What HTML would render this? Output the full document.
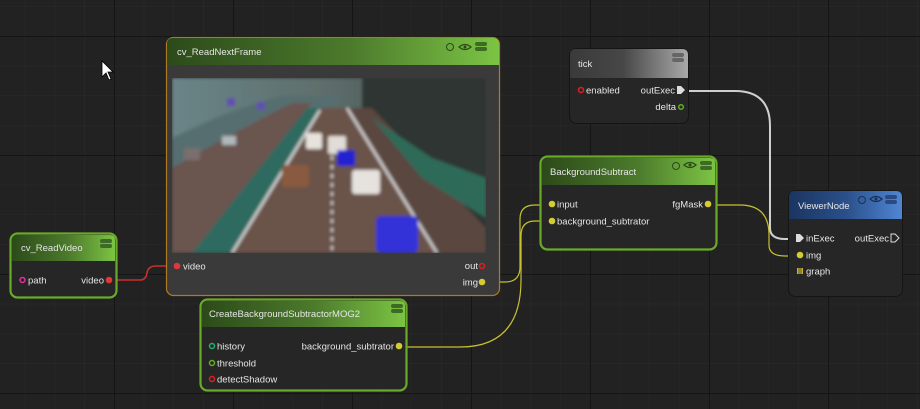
<!DOCTYPE html>
<html><head><meta charset="utf-8"><style>
html,body{margin:0;padding:0;width:920px;height:409px;overflow:hidden;background:#222}
svg{display:block}
text{font-family:"Liberation Sans","DejaVu Sans",sans-serif;font-size:9.5px;fill:#e6e6e6}
.r{text-anchor:end}
</style></head><body>
<svg width="920" height="409" viewBox="0 0 920 409" xmlns="http://www.w3.org/2000/svg">
<defs>
<pattern id="minor" x="24.75" y="6.25" width="29.75" height="29.75" patternUnits="userSpaceOnUse">
<path d="M0 0H29.75M0 0V29.75" stroke="#2b2b2b" stroke-width="1" fill="none"/></pattern>
<pattern id="major" x="114" y="36" width="119" height="119" patternUnits="userSpaceOnUse">
<path d="M0 0H119M0 0V119" stroke="#151515" stroke-width="2" fill="none"/></pattern>
<linearGradient id="gG" x1="0" x2="1"><stop offset="0" stop-color="#2c4a1a"/><stop offset="0.55" stop-color="#4c7a2c"/><stop offset="1" stop-color="#7cc444"/></linearGradient>
<linearGradient id="gT" x1="0" x2="1"><stop offset="0" stop-color="#3a3a3a"/><stop offset="0.45" stop-color="#474747"/><stop offset="1" stop-color="#a9a9a9"/></linearGradient>
<linearGradient id="gB" x1="0" x2="1"><stop offset="0" stop-color="#1a3560"/><stop offset="0.5" stop-color="#2a4f8a"/><stop offset="1" stop-color="#4f86d4"/></linearGradient>
<linearGradient id="sky" x1="0" x2="1"><stop offset="0" stop-color="#6a8588"/><stop offset="0.5" stop-color="#5d6d6a"/><stop offset="1" stop-color="#3a4542"/></linearGradient>
<filter id="blur"><feGaussianBlur stdDeviation="1.5"/></filter>
</defs>
<rect width="920" height="409" fill="#222"/>
<rect width="920" height="409" fill="url(#minor)"/>
<rect width="920" height="409" fill="url(#major)"/>

<!-- wires -->
<path d="M108 280 H140 Q146 280 147 273 Q148 266 156 266 H176" stroke="#c83030" stroke-width="1.6" fill="none"/>
<path d="M483 282 H505 Q520 282 520 267 V219 Q520 205 535 205 H549" stroke="#c8c030" stroke-width="1.2" fill="none"/>
<path d="M400 347 H460 Q521 347 521 280 V236 Q521 221 535 221 H549" stroke="#c8c030" stroke-width="1.2" fill="none"/>
<path d="M708 205 H740 Q769 205 769 235 V245 Q769 256 785 256 H800" stroke="#c8c030" stroke-width="1.2" fill="none"/>
<path d="M684 91 H735 Q770 91 770 126 V228 Q770 239 785 239 H797" stroke="#cfcfcf" stroke-width="2" fill="none"/>

<!-- cv_ReadNextFrame -->
<g>
<rect x="166.5" y="37.5" width="333" height="258" rx="7" fill="#3a3a3a" stroke="#b07a22" stroke-width="1.2"/>
<path d="M167 44 Q167 38 173 38 H493 Q499 38 499 44 V65 H167Z" fill="url(#gG)"/>
<text x="177" y="55">cv_ReadNextFrame</text>
<circle cx="450" cy="47" r="3.5" fill="none" stroke="#2a4a1a" stroke-width="1"/>
<path d="M459 47 Q465 42 471 47 Q465 52 459 47Z" fill="none" stroke="#2a4a1a" stroke-width="1.2"/><circle cx="465" cy="47" r="1.5" fill="#2a4a1a"/>
<rect x="475" y="42" width="12" height="4" rx="2" fill="#3d6a25"/><rect x="475" y="47" width="12" height="4" rx="2" fill="#3d6a25"/>
<svg x="172" y="78" width="314" height="175" viewBox="0 0 314 175">
<g filter="url(#blur)">
<rect width="314" height="175" fill="url(#sky)"/>
<rect x="190" y="0" width="124" height="175" fill="#2e3432"/>
<path d="M0 60 Q60 30 110 18 L170 18 L40 175 H0Z" fill="#576e70"/>
<path d="M0 90 Q70 50 120 25 L140 25 L20 175 H0Z" fill="#6a5450"/>
<path d="M20 175 L135 30 L150 30 L60 175Z" fill="#2f6a5e"/>
<path d="M60 175 L150 30 L175 30 L265 175Z" fill="#6a5248"/>
<path d="M175 30 L200 30 L314 150 V175 H265Z" fill="#5a4640"/>
<path d="M200 40 L260 80 L314 100 V140 L250 100Z" fill="#2e6a58"/>
<path d="M60 175 L148 32" stroke="#d8d8d8" stroke-width="2.5"/>
<path d="M175 30 L265 175" stroke="#d8d8d8" stroke-width="2.5"/>
<path d="M160 60 V175" stroke="#ddd" stroke-width="2" stroke-dasharray="4 5"/>
<rect x="134" y="55" width="16" height="16" rx="2" fill="#e6e2dc"/>
<rect x="156" y="58" width="18" height="18" rx="2" fill="#e0dcd6"/>
<rect x="165" y="72" width="18" height="16" rx="2" fill="#2020d0"/>
<rect x="110" y="87" width="27" height="22" rx="3" fill="#8a5a40"/>
<rect x="180" y="92" width="28" height="24" rx="3" fill="#e6e2de"/>
<rect x="204" y="138" width="42" height="37" rx="5" fill="#3030d8"/>
<rect x="12" y="70" width="16" height="12" fill="#7a6e6e"/>
<rect x="50" y="58" width="14" height="9" fill="#b0b8bc"/>
<rect x="55" y="20" width="8" height="8" fill="#6050b0"/>
<rect x="85" y="24" width="8" height="8" fill="#6050b0"/>
</g>
</svg>
<circle cx="177" cy="266" r="3.3" fill="#e03838"/>
<text x="183" y="269.5">video</text>
<text class="r" x="478" y="269">out</text>
<circle cx="482" cy="266" r="2.5" fill="none" stroke="#e02020" stroke-width="1.5"/>
<text class="r" x="478" y="285.5">img</text>
<circle cx="482" cy="282" r="3.3" fill="#d4cc30"/>
</g>

<!-- cv_ReadVideo -->
<g>
<rect x="10.5" y="233.5" width="106" height="64" rx="7" fill="#262626" stroke="#6aaa28" stroke-width="2.2"/>
<path d="M12 240 Q12 235 17 235 H110 Q115 235 115 240 V261 H12Z" fill="url(#gG)"/>
<text x="21" y="251">cv_ReadVideo</text>
<rect x="100" y="239" width="12" height="4" rx="2" fill="#3d6a25"/><rect x="100" y="244" width="12" height="4" rx="2" fill="#3d6a25"/>
<circle cx="22.5" cy="280" r="2.5" fill="none" stroke="#e030a0" stroke-width="1.5"/>
<text x="28" y="283.5">path</text>
<text class="r" x="104" y="283.5">video</text>
<circle cx="109" cy="280" r="3.3" fill="#e03838"/>
</g>

<!-- CreateBackgroundSubtractorMOG2 -->
<g>
<rect x="200.5" y="299.5" width="206" height="91" rx="7" fill="#262626" stroke="#6aaa28" stroke-width="2.2"/>
<path d="M202 306 Q202 301 207 301 H400 Q405 301 405 306 V327 H202Z" fill="url(#gG)"/>
<text x="209" y="317">CreateBackgroundSubtractorMOG2</text>
<rect x="391" y="304" width="12" height="4" rx="2" fill="#3d6a25"/><rect x="391" y="309" width="12" height="4" rx="2" fill="#3d6a25"/>
<circle cx="212" cy="346" r="2.5" fill="none" stroke="#20b070" stroke-width="1.5"/><text x="217" y="349.5">history</text>
<circle cx="212" cy="363" r="2.5" fill="none" stroke="#60b020" stroke-width="1.5"/><text x="217" y="366.5">threshold</text>
<circle cx="212" cy="379" r="2.5" fill="none" stroke="#e02020" stroke-width="1.5"/><text x="217" y="382.5">detectShadow</text>
<text class="r" x="394" y="349.5">background_subtrator</text>
<circle cx="399" cy="346" r="3.3" fill="#d4cc30"/>
</g>

<!-- tick -->
<g>
<rect x="569.5" y="48.5" width="119" height="75" rx="7" fill="#262626" stroke="#151515" stroke-width="1"/>
<path d="M570 55 Q570 49 576 49 H682 Q688 49 688 55 V78 H570Z" fill="url(#gT)"/>
<text x="578" y="67">tick</text>
<rect x="672" y="53" width="12" height="4" rx="2" fill="#666"/><rect x="672" y="58" width="12" height="4" rx="2" fill="#666"/>
<circle cx="581" cy="90" r="2.5" fill="none" stroke="#e02020" stroke-width="1.5"/><text x="586" y="93.5">enabled</text>
<text class="r" x="675" y="93.5">outExec</text>
<path d="M677 86 H681 L685 90 L681 94 H677Z" fill="#ddd"/>
<text class="r" x="676" y="110">delta</text>
<circle cx="681" cy="107" r="2.3" fill="none" stroke="#60b020" stroke-width="1.5"/>
</g>

<!-- BackgroundSubtract -->
<g>
<rect x="540.5" y="156.5" width="176" height="93" rx="7" fill="#262626" stroke="#6aaa28" stroke-width="2.2"/>
<path d="M542 163 Q542 158 547 158 H710 Q715 158 715 163 V185 H542Z" fill="url(#gG)"/>
<text x="550" y="175">BackgroundSubtract</text>
<circle cx="676" cy="166" r="3.5" fill="none" stroke="#2a4a1a" stroke-width="1"/>
<path d="M684 165 Q690 160 696 165 Q690 170 684 165Z" fill="none" stroke="#2a4a1a" stroke-width="1.2"/><circle cx="690" cy="165" r="1.5" fill="#2a4a1a"/>
<rect x="700" y="161" width="12" height="4" rx="2" fill="#3d6a25"/><rect x="700" y="166" width="12" height="4" rx="2" fill="#3d6a25"/>
<circle cx="552" cy="204" r="3.3" fill="#d4cc30"/><text x="557" y="207.5">input</text>
<circle cx="552" cy="221" r="3.3" fill="#d4cc30"/><text x="557" y="224.5">background_subtrator</text>
<text class="r" x="703" y="207.5">fgMask</text>
<circle cx="708" cy="204" r="3.3" fill="#d4cc30"/>
</g>

<!-- ViewerNode -->
<g>
<rect x="788.5" y="190.5" width="114" height="106" rx="7" fill="#262626" stroke="#151515" stroke-width="1"/>
<path d="M789 197 Q789 191 795 191 H896 Q902 191 902 197 V219 H789Z" fill="url(#gB)"/>
<text x="798" y="209">ViewerNode</text>
<circle cx="862" cy="200" r="3.5" fill="none" stroke="#1a2f55" stroke-width="1"/>
<path d="M870 199 Q876 194 882 199 Q876 204 870 199Z" fill="none" stroke="#1a2f55" stroke-width="1.2"/><circle cx="876" cy="199" r="1.5" fill="#1a2f55"/>
<rect x="885" y="195" width="12" height="4" rx="2" fill="#2a4a80"/><rect x="885" y="200" width="12" height="4" rx="2" fill="#2a4a80"/>
<path d="M796 234 H800 L804 238 L800 242 H796Z" fill="#ddd"/><text x="806" y="241.5">inExec</text>
<text class="r" x="889" y="241.5">outExec</text>
<path d="M891 234 H895 L899 238 L895 242 H891Z" fill="none" stroke="#ddd" stroke-width="1"/>
<circle cx="800" cy="255" r="3.3" fill="#d4cc30"/><text x="806" y="258.5">img</text>
<rect x="797" y="268" width="6" height="6" fill="#c8b830"/>
<path d="M799 268V274M801 268V274" stroke="#262626" stroke-width="0.7"/>
<text x="806" y="274.5">graph</text>
</g>

<path d="M102 61 L102 77 L106 73 L109 80 L111 79 L108 72 L113 72Z" fill="#fff" stroke="#000" stroke-width="0.8"/>
</svg>
</body></html>
